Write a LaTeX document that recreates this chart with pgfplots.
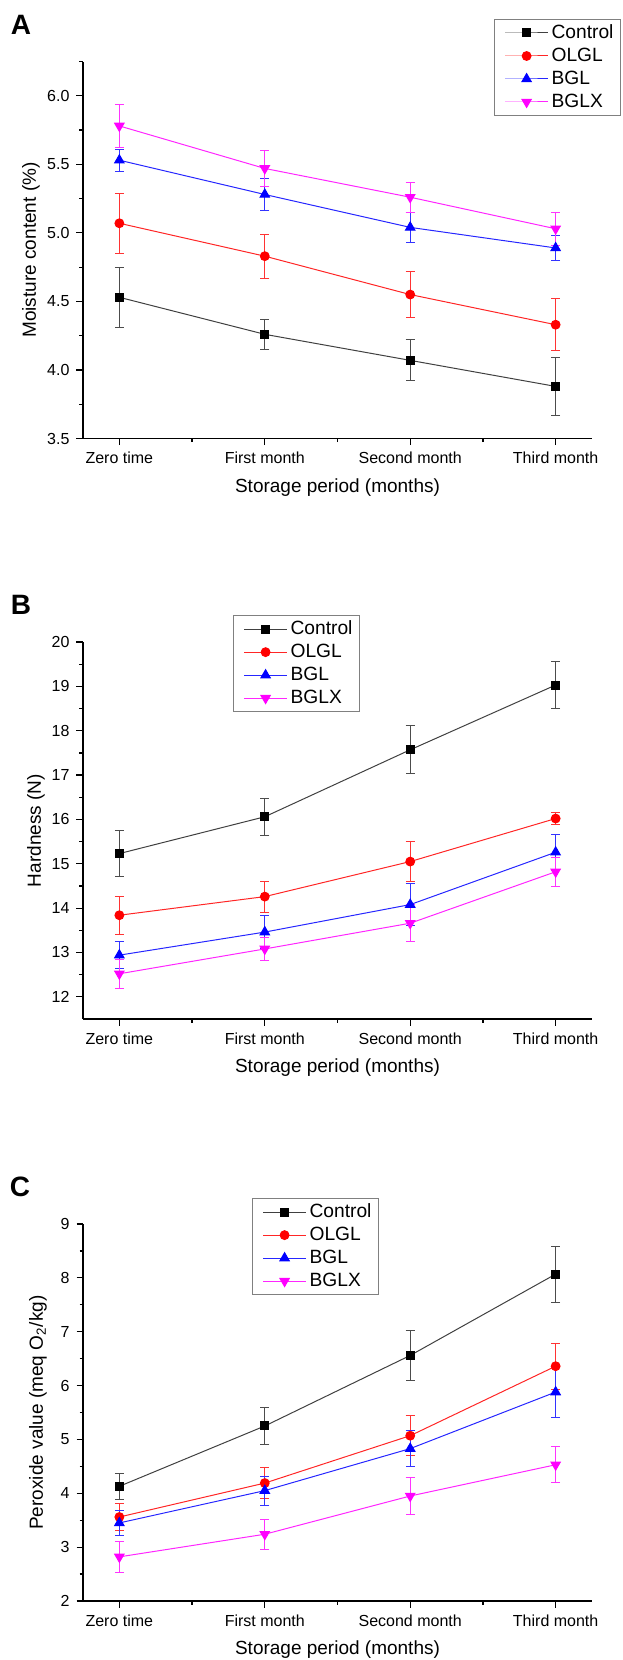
\documentclass[border=0pt]{standalone}
\usepackage{fontspec}
\setmainfont{Liberation Sans}
\usepackage{pgfplots}
\usepackage{pgfplotstable}
\pgfplotsset{compat=1.18}

% x: 0 zero time, 1 first, 2 second, 3 third month
\pgfplotstableread{
x  c     ce    o     oe    b     be    g     ge
0  4.53  0.22  5.07  0.22  5.53  0.08  5.78  0.16
1  4.26  0.11  4.83  0.16  5.28  0.12  5.47  0.13
2  4.07  0.15  4.55  0.17  5.04  0.11  5.26  0.11
3  3.88  0.21  4.33  0.19  4.89  0.09  5.03  0.12
}\moisture
\pgfplotstableread{
x  c      ce    o      oe    b      be    g      ge
0  15.23  0.51  13.84  0.43  12.94  0.31  12.52  0.33
1  16.06  0.42  14.26  0.35  13.46  0.37  13.08  0.25
2  17.57  0.54  15.05  0.45  14.08  0.47  13.66  0.42
3  19.03  0.52  16.02  0.13  15.26  0.41  14.82  0.33
}\hardness
\pgfplotstableread{
x  c     ce    o     oe    b     be    g     ge
0  4.13  0.24  3.56  0.25  3.45  0.23  2.82  0.29
1  5.25  0.34  4.19  0.28  4.05  0.27  3.24  0.28
2  6.56  0.47  5.07  0.37  4.83  0.33  3.95  0.35
3  8.07  0.52  6.36  0.43  5.88  0.47  4.53  0.33
}\peroxide

\definecolor{omag}{RGB}{255,0,255}

\pgfplotsset{
  panel/.style={
    width=254.5pt, height=188.5pt, scale only axis,
    axis lines*=left, axis line style={-, line width=0.65pt},
    xmin=-0.25, xmax=3.25,
    xtick={0,1,2,3}, minor xtick={0.5,1.5,2.5},
    xticklabels={Zero time, First month, Second month, Third month},
    tick align=outside, major tick length=3.25pt, minor tick length=1.75pt,
    tick style={black, line width=0.6pt},
    ticklabel style={font=\fontsize{8}{9}\selectfont},
    label style={font=\fontsize{9.5}{11}\selectfont},
    xlabel={Storage period (months)},
    xlabel style={at={(axis description cs:0.5,0)}, anchor=center, yshift=-24.5pt},
    /pgf/number format/assume math mode=true,
    legend cell align=left,
    legend style={draw=black!50, line width=0.6pt, anchor=north west,
      font=\fontsize{9.6}{11}\selectfont, inner xsep=2pt, inner ysep=1pt, row sep=0pt,
      nodes={inner sep=1.5pt, text height=7pt, text depth=1.5pt}},
    legend image code/.code={
      \path (0pt,0pt);
      \draw[mark repeat=2, mark phase=2, ##1] plot coordinates {(3pt,0pt) (13.75pt,0pt) (24.5pt,0pt)};},
  },
  eb/.style={
    /pgfplots/error bars/y dir=both, /pgfplots/error bars/y explicit,
    /pgfplots/error bars/error bar style={line width=0.5pt, #1},
    /pgfplots/error bars/error mark options={rotate=90, mark size=2.25pt, line width=0.5pt, #1}},
  sctrl/.style={black!75, line width=0.5pt, mark=square*, mark size=2pt,
    mark options={solid, fill=black, draw=black}, eb={black!70}},
  solgl/.style={red!85, line width=0.5pt, mark=*, mark size=2.2pt,
    mark options={solid, fill=red, draw=red}, eb={red!80}},
  sbgl/.style={blue!85, line width=0.5pt, mark=triangle*, mark size=2.7pt,
    mark options={solid, fill=blue, draw=blue}, eb={blue!80}},
  sbglx/.style={omag!85, line width=0.5pt, mark=triangle*, mark size=2.7pt,
    mark options={solid, fill=omag, draw=omag, rotate=180}, eb={omag!80}},
}

\begin{document}
\begin{tikzpicture}
\path[use as bounding box] (0,0) rectangle (311pt,-830pt);

\node[font=\fontsize{14}{16}\selectfont\bfseries] at (10.5pt,-12.5pt) {A};
\node[font=\fontsize{14}{16}\selectfont\bfseries] at (10.5pt,-302.5pt) {B};
\node[font=\fontsize{14}{16}\selectfont\bfseries] at (10pt,-593.5pt) {C};

% A: moisture content
\begin{axis}[panel, at={(41.5pt,-219.25pt)}, anchor=south west,
  ymin=3.5, ymax=6.25, ytick={3.5,4,...,6}, minor ytick={3.75,4.25,...,6.25},
  yticklabel style={/pgf/number format/.cd, fixed, fixed zerofill, precision=1},
  ylabel={Moisture content (\%)},
  ylabel style={at={(axis description cs:0,0.5)}, anchor=center, yshift=26pt},
  legend style={at={(0.8075,1.113)}}]
\addplot[sctrl] table[x=x, y=c, y error=ce] {\moisture};
\addlegendentry{Control}
\addplot[solgl] table[x=x, y=o, y error=oe] {\moisture};
\addlegendentry{OLGL}
\addplot[sbgl] table[x=x, y=b, y error=be] {\moisture};
\addlegendentry{BGL}
\addplot[sbglx] table[x=x, y=g, y error=ge] {\moisture};
\addlegendentry{BGLX}
\end{axis}

% B: hardness
\begin{axis}[panel, at={(41.5pt,-509.5pt)}, anchor=south west,
  ymin=11.5, ymax=20, ytick={12,13,...,20}, minor ytick={12.5,13.5,...,19.5},
  ylabel={Hardness (N)},
  ylabel style={at={(axis description cs:0,0.5)}, anchor=center, yshift=23.5pt},
  legend style={at={(0.2947,1.0716)}}]
\addplot[sctrl] table[x=x, y=c, y error=ce] {\hardness};
\addlegendentry{Control}
\addplot[solgl] table[x=x, y=o, y error=oe] {\hardness};
\addlegendentry{OLGL}
\addplot[sbgl] table[x=x, y=b, y error=be] {\hardness};
\addlegendentry{BGL}
\addplot[sbglx] table[x=x, y=g, y error=ge] {\hardness};
\addlegendentry{BGLX}
\end{axis}

% C: peroxide value
\begin{axis}[panel, at={(41.5pt,-800.5pt)}, anchor=south west,
  ymin=2, ymax=9, ytick={2,3,...,9}, minor ytick={2.5,3.5,...,8.5},
  ylabel={Peroxide value (meq O\textsubscript{2}/kg)},
  ylabel style={at={(axis description cs:0,0.5)}, anchor=center, yshift=22.5pt},
  legend style={at={(0.332,1.069)}}]
\addplot[sctrl] table[x=x, y=c, y error=ce] {\peroxide};
\addlegendentry{Control}
\addplot[solgl] table[x=x, y=o, y error=oe] {\peroxide};
\addlegendentry{OLGL}
\addplot[sbgl] table[x=x, y=b, y error=be] {\peroxide};
\addlegendentry{BGL}
\addplot[sbglx] table[x=x, y=g, y error=ge] {\peroxide};
\addlegendentry{BGLX}
\end{axis}
\end{tikzpicture}
\end{document}
